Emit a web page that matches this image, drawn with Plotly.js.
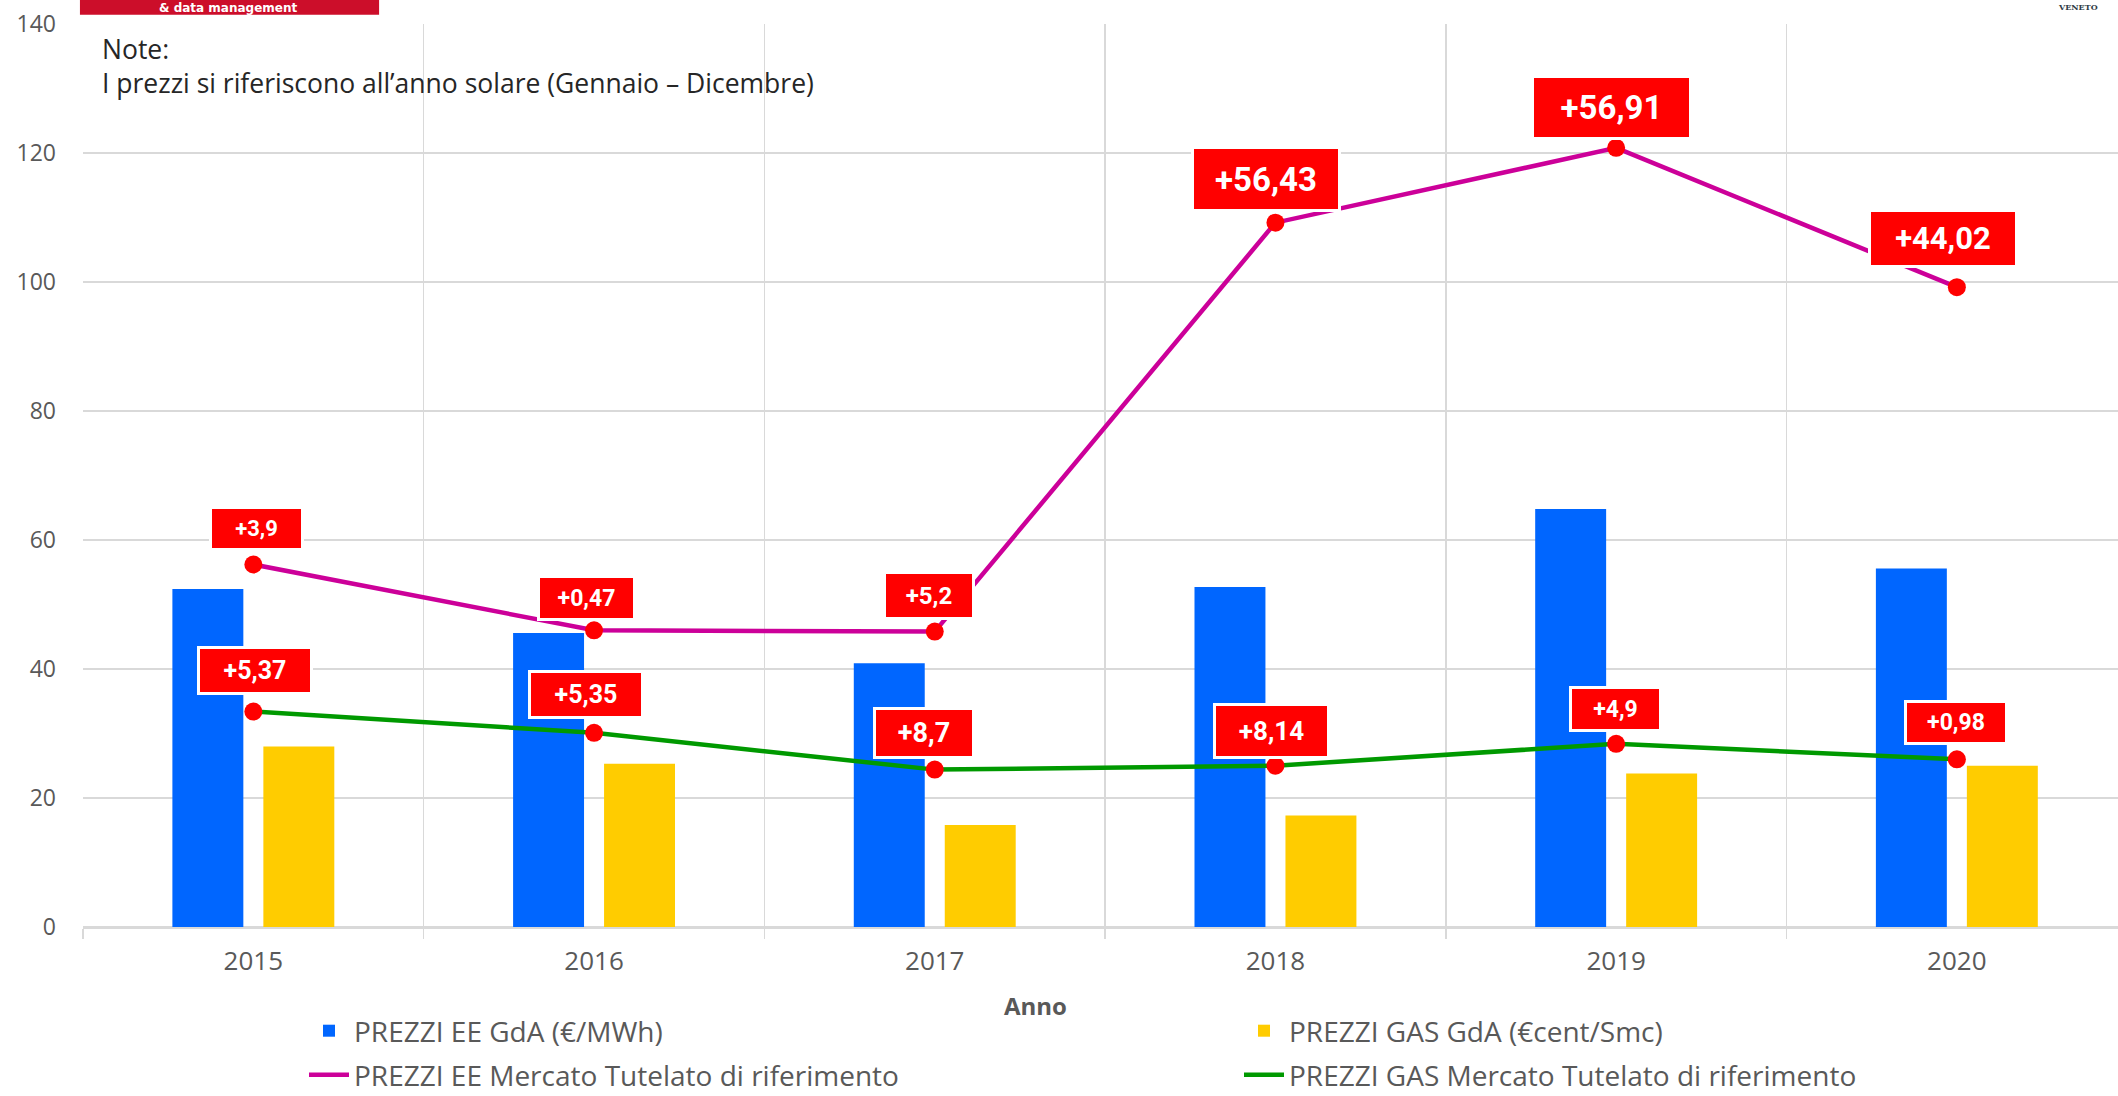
<!DOCTYPE html>
<html>
<head>
<meta charset="utf-8">
<script src="https://cdn.plot.ly/plotly-3.0.1.min.js"></script>
<style>
  html, body { margin: 0; padding: 0; background: #ffffff; }
  #chart { width: 2118px; height: 1096px; }
</style>
</head>
<body>
<div id="chart"></div>
<script>
// ---- data ----
const years = ['2015', '2016', '2017', '2018', '2019', '2020'];
const eeGdA = [52.4, 45.6, 40.9, 52.7, 64.8, 55.6];
const gasGdA = [28.0, 25.3, 15.8, 17.3, 23.8, 25.0];
const eeTutelato = [56.2, 46.0, 45.8, 109.2, 120.8, 99.2];
const gasTutelato = [33.4, 30.1, 24.4, 25.0, 28.4, 26.0];
const eeDelta = ['+3,9', '+0,47', '+5,2', '+56,43', '+56,91', '+44,02'];
const gasDelta = ['+5,37', '+5,35', '+8,7', '+8,14', '+4,9', '+0,98'];
const seriesNames = [
  'PREZZI EE GdA (€/MWh)',
  'PREZZI GAS GdA (€cent/Smc)',
  'PREZZI EE Mercato Tutelato di riferimento',
  'PREZZI GAS Mercato Tutelato di riferimento'
];
const xTitle = 'Anno';
const noteText = 'Note:<br>I prezzi si riferiscono all’anno solare (Gennaio – Dicembre)';

// ---- label box styles (pixel offsets from the point, box sizes, font sizes) ----
const eeLabelStyle = [
  {dx: 3, dy: 36, w: 89, h: 39, fs: 22},
  {dx: -8, dy: 32, w: 93, h: 40, fs: 23},
  {dx: -6, dy: 36, w: 86, h: 43, fs: 24},
  {dx: -9, dy: 44, w: 144, h: 60, fs: 33},
  {dx: -5, dy: 40, w: 155, h: 59, fs: 33},
  {dx: -14, dy: 49, w: 144, h: 53, fs: 31}
];
const gasLabelStyle = [
  {dx: 2, dy: 41, w: 110, h: 43, fs: 25},
  {dx: -8, dy: 38, w: 110, h: 43, fs: 25},
  {dx: -11, dy: 37, w: 96, h: 46, fs: 27},
  {dx: -4, dy: 35, w: 111, h: 50, fs: 26},
  {dx: -1, dy: 35, w: 87, h: 40, fs: 23},
  {dx: -1, dy: 37, w: 98, h: 39, fs: 23}
];

const FONT = 'Open Sans, Lato, sans-serif';
const GREY = '#595959';
const GRID = '#d9d9d9';

const traces = [
  {type: 'bar', name: seriesNames[0], x: years, y: eeGdA,
   marker: {color: '#0066FF'}, legend: 'legend'},
  {type: 'bar', name: seriesNames[1], x: years, y: gasGdA,
   marker: {color: '#FFCC00'}, legend: 'legend2'},
  {type: 'scatter', mode: 'lines', name: seriesNames[2], x: years, y: eeTutelato,
   line: {color: '#CC0099', width: 4.5}, legend: 'legend3'},
  {type: 'scatter', mode: 'lines', name: seriesNames[3], x: years, y: gasTutelato,
   line: {color: '#009900', width: 4.5}, legend: 'legend4'},
  {type: 'scatter', mode: 'markers', x: years, y: eeTutelato, showlegend: false,
   marker: {color: '#FF0000', size: 18, line: {width: 0}}},
  {type: 'scatter', mode: 'markers', x: years, y: gasTutelato, showlegend: false,
   marker: {color: '#FF0000', size: 18, line: {width: 0}}}
];

function labelAnn(i, y, text, s) {
  return {
    x: i, y: y, xref: 'x', yref: 'y', text: '<b>' + text + '</b>', showarrow: false,
    xanchor: 'center', yanchor: 'middle',
    xshift: s.dx, yshift: s.dy, width: s.w, height: s.h,
    bgcolor: '#FF0000', bordercolor: '#FFFFFF', borderwidth: 3, borderpad: 0,
    font: {family: 'Roboto, sans-serif', size: s.fs, color: '#FFFFFF'}
  };
}

const annotations = [];
years.forEach((yr, i) => {
  annotations.push(labelAnn(i, eeTutelato[i], eeDelta[i], eeLabelStyle[i]));
  annotations.push(labelAnn(i, gasTutelato[i], gasDelta[i], gasLabelStyle[i]));
});

// note box text
annotations.push({
  xref: 'paper', yref: 'paper', x: 0.0083, y: 0.994, xanchor: 'left', yanchor: 'top',
  align: 'left', showarrow: false, text: noteText,
  font: {family: FONT, size: 26.5, color: '#262626'}
});
// x axis title
annotations.push({
  xref: 'paper', yref: 'paper', x: 0.4683, y: -0.0872, xanchor: 'center', yanchor: 'middle',
  showarrow: false, text: '<b>' + xTitle + '</b>',
  font: {family: FONT, size: 24, color: GREY}
});
// header logo texts
annotations.push({
  xref: 'paper', yref: 'paper', x: 0.0713, y: 1.0177, xanchor: 'center', yanchor: 'middle',
  showarrow: false, text: '<b>&amp; data management</b>',
  font: {family: 'DejaVu Sans, sans-serif', size: 12, color: '#FFFFFF'}
});
annotations.push({
  xref: 'paper', yref: 'paper', x: 0.9805, y: 1.019, xanchor: 'center', yanchor: 'middle',
  showarrow: false, text: '<b>VENETO</b>',
  font: {family: 'DejaVu Serif, serif', size: 8, color: '#2f3b45'}
});

function legendAt(xpx, ypx) {
  return {
    orientation: 'h', xref: 'container', yref: 'container',
    x: xpx / 2118, y: 1 - ypx / 1096, xanchor: 'left', yanchor: 'middle',
    itemwidth: 40, bgcolor: 'rgba(0,0,0,0)',
    font: {family: FONT, size: 28, color: GREY}
  };
}

const layout = {
  width: 2118, height: 1096,
  showlegend: true,
  margin: {l: 83, r: 0, t: 24, b: 169, pad: 0, autoexpand: false},
  paper_bgcolor: '#FFFFFF', plot_bgcolor: '#FFFFFF',
  barmode: 'group', bargap: 0.466, bargroupgap: 0.22,
  hovermode: false,
  font: {family: FONT, color: GREY},
  xaxis: {
    type: 'category', range: [-0.5, 5.473], fixedrange: true,
    tickson: 'boundaries', ticks: 'outside', ticklen: 10, tickwidth: 1.5, tickcolor: GRID,
    showgrid: true, gridcolor: GRID, gridwidth: 1.5,
    showline: true, linecolor: GRID, linewidth: 2,
    tickfont: {family: FONT, size: 26, color: GREY},
    ticklabelstandoff: 10
  },
  yaxis: {
    range: [0, 140], dtick: 20, fixedrange: true,
    showgrid: true, gridcolor: GRID, gridwidth: 1.5,
    zeroline: true, zerolinecolor: GRID, zerolinewidth: 2,
    ticks: '', ticklabelstandoff: 26,
    tickfont: {family: FONT, size: 23, color: GREY}
  },
  legend: legendAt(304, 1031),
  legend2: legendAt(1239, 1031),
  legend3: legendAt(304, 1075),
  legend4: legendAt(1239, 1075),
  shapes: [
    {type: 'rect', xref: 'paper', yref: 'paper', x0: -0.0015, x1: 0.1455, y0: 1.0102, y1: 1.03,
     fillcolor: '#CC0E2A', line: {width: 0}, layer: 'above'}
  ],
  annotations: annotations
};

Plotly.newPlot('chart', traces, layout, {displayModeBar: false, staticPlot: true});
</script>
</body>
</html>
